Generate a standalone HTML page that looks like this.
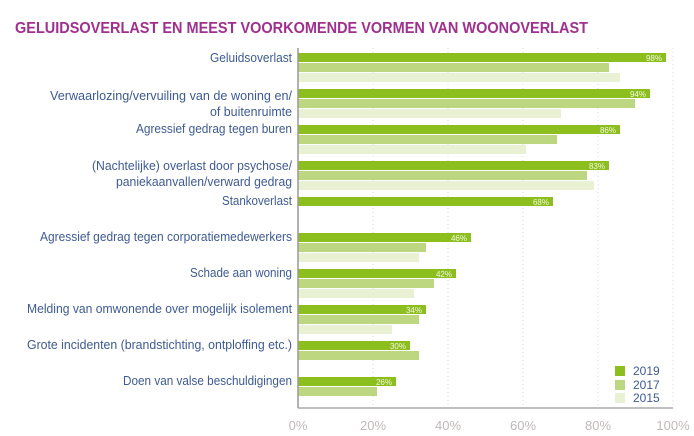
<!DOCTYPE html><html><head><meta charset="utf-8"><style>body{margin:0;background:#fff}svg{display:block}</style></head><body>
<svg width="694" height="436" xmlns="http://www.w3.org/2000/svg" font-family="Liberation Sans, sans-serif">
<text x="15" y="33" font-size="16" font-weight="bold" fill="#a0308e" textLength="573" lengthAdjust="spacingAndGlyphs">GELUIDSOVERLAST EN MEEST VOORKOMENDE VORMEN VAN WOONOVERLAST</text>
<g stroke="#d8d8d8" stroke-dasharray="1,3" stroke-width="1">
<line x1="373" y1="48" x2="373" y2="408"/><line x1="448" y1="48" x2="448" y2="408"/><line x1="523" y1="48" x2="523" y2="408"/><line x1="598" y1="48" x2="598" y2="408"/><line x1="673" y1="48" x2="673" y2="408"/></g>
<g fill="#8cbe1e">
<rect x="298" y="53" width="368" height="9"/><rect x="298" y="89" width="352" height="9"/><rect x="298" y="125" width="322" height="9"/><rect x="298" y="161" width="311" height="9"/><rect x="298" y="197" width="255" height="9"/><rect x="298" y="233" width="173" height="9"/><rect x="298" y="269" width="158" height="9"/><rect x="298" y="305" width="128" height="9"/><rect x="298" y="341" width="112" height="9"/><rect x="298" y="377" width="98" height="9"/></g>
<g fill="#bcd77f">
<rect x="298" y="63" width="311" height="9"/><rect x="298" y="99" width="337" height="9"/><rect x="298" y="135" width="259" height="9"/><rect x="298" y="171" width="289" height="9"/><rect x="298" y="243" width="128" height="9"/><rect x="298" y="279" width="136" height="9"/><rect x="298" y="315" width="121" height="9"/><rect x="298" y="351" width="121" height="9"/><rect x="298" y="387" width="79" height="9"/></g>
<g fill="#e9f1d5">
<rect x="298" y="73" width="322" height="9"/><rect x="298" y="109" width="263" height="9"/><rect x="298" y="145" width="228" height="9"/><rect x="298" y="181" width="296" height="9"/><rect x="298" y="253" width="121" height="9"/><rect x="298" y="289" width="116" height="9"/><rect x="298" y="325" width="94" height="9"/></g>
<g fill="#f2f7e0" font-size="8" text-anchor="end">
<text x="662" y="61">98%</text><text x="646" y="97">94%</text><text x="616" y="133">86%</text><text x="605" y="169">83%</text><text x="549" y="205">68%</text><text x="467" y="241">46%</text><text x="452" y="277">42%</text><text x="422" y="313">34%</text><text x="406" y="349">30%</text><text x="392" y="385">26%</text></g>
<line x1="298" y1="48" x2="298" y2="408" stroke="#999" stroke-width="1.5"/>
<line x1="298" y1="408" x2="673" y2="408" stroke="#aaa" stroke-width="1.5"/>
<g fill="#c0b8b8" font-size="13" text-anchor="middle">
<text x="298" y="430">0%</text><text x="373" y="430">20%</text><text x="448" y="430">40%</text><text x="523" y="430">60%</text><text x="598" y="430">80%</text><text x="673" y="430">100%</text></g>
<g fill="#3d5a94" font-size="13" text-anchor="end">
<text x="292" y="62" textLength="82" lengthAdjust="spacingAndGlyphs">Geluidsoverlast</text>
<text x="292" y="100" textLength="242" lengthAdjust="spacingAndGlyphs">Verwaarlozing/vervuiling van de woning en/</text>
<text x="292" y="116" textLength="82" lengthAdjust="spacingAndGlyphs">of buitenruimte</text>
<text x="292" y="133" textLength="156" lengthAdjust="spacingAndGlyphs">Agressief gedrag tegen buren</text>
<text x="292" y="170" textLength="200" lengthAdjust="spacingAndGlyphs">(Nachtelijke) overlast door psychose/</text>
<text x="292" y="186" textLength="176" lengthAdjust="spacingAndGlyphs">paniekaanvallen/verward gedrag</text>
<text x="292" y="205" textLength="70" lengthAdjust="spacingAndGlyphs">Stankoverlast</text>
<text x="292" y="241" textLength="252" lengthAdjust="spacingAndGlyphs">Agressief gedrag tegen corporatiemedewerkers</text>
<text x="292" y="277" textLength="102" lengthAdjust="spacingAndGlyphs">Schade aan woning</text>
<text x="292" y="313" textLength="265" lengthAdjust="spacingAndGlyphs">Melding van omwonende over mogelijk isolement</text>
<text x="292" y="349" textLength="265" lengthAdjust="spacingAndGlyphs">Grote incidenten (brandstichting, ontploffing etc.)</text>
<text x="292" y="385" textLength="169" lengthAdjust="spacingAndGlyphs">Doen van valse beschuldigingen</text></g>
<rect x="615" y="366" width="10" height="10" fill="#8cbe1e"/>
<rect x="615" y="380" width="10" height="10" fill="#bcd77f"/>
<rect x="615" y="393" width="10" height="10" fill="#e9f1d5"/>
<g fill="#3d5a94" font-size="12"><text x="633" y="375">2019</text><text x="633" y="389">2017</text><text x="633" y="402">2015</text></g>
</svg></body></html>
